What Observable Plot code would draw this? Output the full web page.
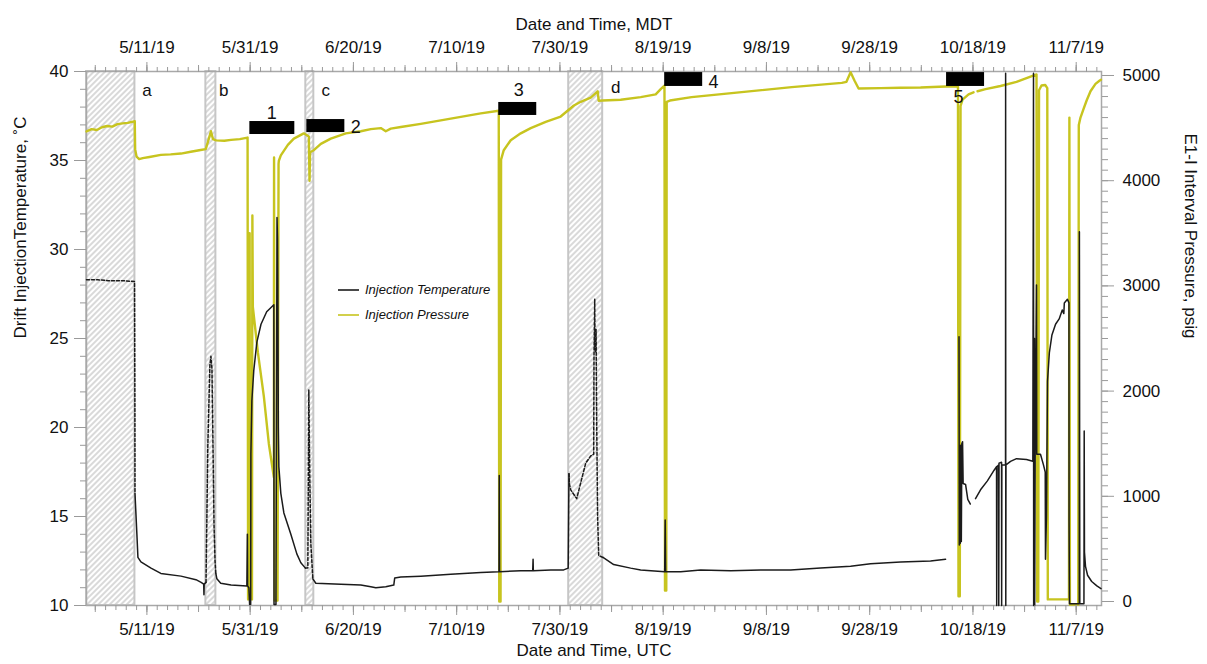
<!DOCTYPE html>
<html><head><meta charset="utf-8">
<script src="https://cdn.jsdelivr.net/npm/d3@7"></script>
<script src="https://cdn.jsdelivr.net/npm/@observablehq/plot@0.6"></script>
<style>
body{margin:0;background:#fff;font-family:"Liberation Sans",Arial,sans-serif;}
#wrap{position:relative;width:1207px;height:664px;overflow:hidden;}
#legend{position:absolute;left:338px;top:277px;font-style:italic;font-size:13px;color:#111;line-height:26px;}
#legend div{display:flex;align-items:center;height:25px;}
#legend svg{margin-right:6px;}
</style></head><body><div id="wrap"><div id="legend"></div></div>
<script>
// ---- data (time = day of year 2019, fractional) ----
const temperature = [
[119.3,28.3],[121.5,28.3],[123.5,28.25],[126,28.25],[128.6,28.2],[128.67,21.3],
[128.69,16.3],[129.06,14.0],[129.26,12.7],[129.84,12.45],[131.8,12.1],[133.7,11.8],[137.6,11.65],[140.5,11.45],[141.5,11.3],[142.0,11.2],[142.05,10.6],[142.1,11.2],
[142.45,11.3],[142.8,19.0],[143.2,23.5],[143.4,24.0],[143.6,23.3],[143.8,19.0],[144.0,14.5],[144.2,12.5],[144.35,11.8],
[144.55,11.5],[145.3,11.25],[147.3,11.15],[150.36,11.1],[150.46,14.0],[150.5,11.1],[150.75,11.0],[150.9,10.05],[151.1,10.05],
[151.14,18.5],[151.33,21.5],[151.7,23.2],[152.3,24.8],[153.1,25.8],[154.2,26.5],[155.59,26.9],[155.62,10.05],[156.0,10.05],
[156.2,31.8],[156.3,30.6],[156.36,28.0],[156.46,20.0],[156.56,17.8],[156.94,16.3],[157.53,15.2],[158.88,14.0],[160.04,12.9],[160.82,12.4],[161.7,12.1],
[162.17,12.1],[162.36,22.1],[162.56,17.0],[162.75,13.5],[163.14,11.5],[163.72,11.25],[168.56,11.2],[172.43,11.15],[174.37,11.05],[175.34,11.0],[177.27,11.05],[178.82,11.15],[179.0,11.55],[180.18,11.6],[184.05,11.65],[189.86,11.75],[195.67,11.85],[199.2,11.9],[199.25,17.3],[199.3,11.9],[203.41,11.95],[205.73,11.95],[205.8,12.6],[205.85,11.95],[209.22,12.0],[211.73,12.0],[212.6,12.1],
[212.75,17.4],[212.85,16.8],[213.09,16.5],[214.25,16.0],[215.03,16.9],[216.0,18.0],[216.96,18.4],[217.54,18.5],[217.6,24.0],[217.74,27.2],[217.8,24.5],[217.93,24.2],[218.0,25.5],[218.13,20.0],[218.3,15.0],[218.51,12.8],
[219.35,12.7],[221.41,12.3],[224.7,12.1],[226.64,12.0],[231.29,11.9],[231.39,14.8],[231.48,11.9],[234.39,11.9],[238.26,12.0],[244.07,11.95],[249.88,12.0],[255.69,12.0],[261.49,12.1],[267.3,12.2],[271.17,12.35],[276.98,12.45],[282.79,12.5],[285.7,12.6],
[286.5,null],
[288.3,25.1],[288.36,13.4],[288.45,19.0],[288.55,13.5],[288.65,19.0],[288.75,13.6],[288.85,19.1],[288.99,19.2],[289.1,16.85],[289.57,16.8],[290.0,15.96],[290.5,15.7],
[291.0,null],
[291.5,16.0],[292.47,16.5],[293.8,17.0],[295.1,17.6],[295.57,17.8],[295.6,10.0],[295.65,17.8],[295.96,17.9],[296.0,10.0],[296.05,18.0],[296.54,18.05],[296.56,10.0],[296.6,17.9],[297.31,17.9],[297.33,39.9],[297.36,10.0],[297.4,17.9],[298.28,18.1],[299.44,18.25],[301.37,18.2],[302.6,18.1],[302.73,39.9],[302.76,10.0],[302.85,18.1],[302.92,25.0],[302.96,10.0],[303.05,18.3],[303.31,28.0],[303.36,18.5],[304.08,18.5],[304.66,17.9],[305.0,17.5],[305.05,12.6],[305.24,15.0],[305.44,22.6],[305.8,24.2],[306.3,25.2],[307.0,25.8],[307.7,26.1],[308.3,26.6],[308.6,26.4],[308.7,27.0],[309.3,27.2],[309.6,27.0],[309.62,14.7],[309.7,10.1],[311.6,10.1],[311.62,31.0],[311.7,10.1],[312.5,10.1],[312.55,19.8],[312.6,13.0],[312.8,12.2],[313.2,11.7],[314.0,11.35],[315.0,11.1],[315.8,10.95]
];
const pressure = [
[119.3,4468],[120.3,4490],[121.3,4482],[122.3,4508],[123.3,4520],[124.3,4514],[125.3,4538],[126.3,4545],[127.3,4550],[128.2,4560],[128.65,4566],
[128.72,4300],[129.0,4228],[129.5,4205],[130.2,4214],[131.5,4225],[133.7,4245],[135.6,4250],[137.6,4258],[139.5,4275],[141.4,4292],[142.4,4300],
[143.0,4400],[143.4,4470],[143.8,4395],[144.4,4383],[146.0,4380],[147.3,4388],[149.0,4395],[150.5,4410],
[150.6,20],[150.85,20],[150.9,3500],[150.95,20],[151.35,20],[151.43,3670],[151.52,2800],[152.49,2370],[153.65,1950],[154.62,1500],[155.59,1180],[155.63,4220],[155.68,1180],[155.75,10],[156.3,10],[156.5,4160],
[156.56,4190],[156.94,4240],[158.3,4340],[159.46,4400],[161.39,4450],[162.36,4420],[162.5,4000],[162.6,4270],[163.33,4290],[164.69,4350],[166.62,4400],[169.53,4450],[172.43,4470],[174.37,4490],[176.3,4500],[177.27,4470],[178.24,4495],[180.18,4510],[184.05,4540],[189.86,4590],[195.67,4640],[199.15,4665],
[199.25,0],[199.5,0],[199.6,4200],[200.12,4290],[201.47,4385],[203.41,4450],[205.35,4500],[208.25,4560],[211.15,4610],[213.7,4715],[215.03,4750],[216.96,4790],[218.32,4850],[218.5,4760],[219.28,4762],[222.77,4770],[226.64,4794],[229.55,4820],[230.52,4870],[231.25,4905],
[231.35,105],[231.6,105],[231.68,4750],[232.3,4762],[236.5,4794],[246.2,4842],[255.9,4889],[265.6,4930],[266.5,4940],[267.3,5030],[268.07,4950],[268.85,4876],[273.11,4880],[276.98,4884],[280.86,4886],[285.7,4895],[288.1,4895],
[288.2,50],[288.45,50],[288.6,4710],[288.99,4770],[290.15,4820],[291.11,4840],
[291.3,null],
[291.89,4850],[293.44,4870],[296.34,4900],[299.44,4940],[302.15,4990],[303.31,5010],
[303.45,0],[303.65,0],[303.8,4860],[304.28,4905],[305.0,4910],[305.4,4880],[305.5,20],[309.6,20],[309.68,4600],[309.78,-30],[311.4,-30],[311.5,4530],[311.83,4600],[312.41,4680],[313.0,4760],[313.77,4850],[314.74,4920],[315.5,4950],[315.8,4960]
];
// hatched (excluded) periods, day of year
const hatched = [[119.3,128.68],[142.42,144.36],[161.78,163.33],[212.7,219.28]];
const hatchLetters = ["a","b","c","d"];
const letterPos = [[131.0,38.93],[145.9,38.93],[165.66,38.93],[221.8,39.1]];
// test periods (black bars): start, end, lower temp, upper temp
const bars = [[150.94,159.65,36.46,37.19],[161.98,169.34,36.57,37.30],[199.15,206.51,37.53,38.26],[231.29,238.65,39.16,39.94],[285.89,293.25,39.16,39.94]];
const barLabels = ["1","2","3","4","5"];
const barLabelPos = [[155.2,37.64],[171.47,36.85],[203.02,38.93],[240.76,39.38],[288.21,38.54]];
const tempTicks = [10,15,20,25,30,35,40];
const pressureTicks = [0,1000,2000,3000,4000,5000];
const dateTicks = [131,151,171,191,211,231,251,271,291,311];
const P_MIN = -38, P_MAX = 5038;

// ---- helpers ----
const yearStart = Date.UTC(2019,0,1);
const toDate = d => new Date(yearStart + (d - 1) * 864e5);
const toT = p => p == null ? NaN : 10 + (p - P_MIN) / (P_MAX - P_MIN) * 30;
const fromT = t => P_MIN + (t - 10) / 30 * (P_MAX - P_MIN);
const inHatch = d => hatched.some(([a,b]) => d >= a && d <= b);

function runs(series) {
  const out = []; let open = false, curDash = null, id = 0;
  for (let i = 0; i < series.length - 1; i++) {
    const [d0, v0] = series[i], [d1, v1] = series[i+1];
    if (v0 == null || v1 == null) { open = false; continue; }
    const dash = inHatch((d0 + d1) / 2);
    if (!open || dash !== curDash) { id++; curDash = dash; open = true; out.push({date: toDate(d0), v: v0, run: id, dash}); }
    out.push({date: toDate(d1), v: v1, run: id, dash});
  }
  return out;
}
const tRows = runs(temperature);
const pRows = pressure.map(([d, p]) => ({date: toDate(d), v: toT(p)}));
const hatchRows = hatched.map(([a,b]) => ({x1: toDate(a), x2: toDate(b)}));
const letterRows = hatchLetters.map((l,i) => ({label: l, date: toDate(letterPos[i][0]), v: letterPos[i][1]}));
const barRows = bars.map(([a,b,lo,hi]) => ({x1: toDate(a), x2: toDate(b), y1: lo, y2: hi}));
const barLabelRows = barLabels.map((l,i) => ({label: l, date: toDate(barLabelPos[i][0]), v: barLabelPos[i][1]}));
const majorDates = dateTicks.map(toDate);
const minorDates = d3.range(121, 316, 2).map(toDate);
const midDates = d3.range(121, 316, 10).map(toDate);
const fmt = d3.utcFormat("%-m/%-d/%y");
const tickGray = "#9a9a9a";

const defs = () => {
  const g = d3.create("svg:g");
  const p = g.append("defs").append("pattern").attr("id","hatch").attr("patternUnits","userSpaceOnUse")
    .attr("width",4).attr("height",4).attr("patternTransform","rotate(45)");
  p.append("rect").attr("width",4).attr("height",4).attr("fill","white");
  p.append("line").attr("x1",1).attr("y1",0).attr("x2",1).attr("y2",4).attr("stroke","#b3b3b3").attr("stroke-width",1);
  return g.node();
};

const chart = Plot.plot({
  width: 1207, height: 664,
  marginLeft: 86, marginRight: 106, marginTop: 71, marginBottom: 59,
  x: {type: "utc", domain: [toDate(119.3), toDate(315.9)], label: null},
  y: {domain: [10, 40], label: null},
  style: {fontFamily: "'Liberation Sans', Arial, sans-serif", fontSize: "17px", background: "white", color: "#111"},
  marks: [
    defs,
    Plot.rect(hatchRows, {x1: "x1", x2: "x2", y1: 10, y2: 40, fill: "url(#hatch)", stroke: "#c6c6c6", strokeWidth: 2}),
    Plot.frame({stroke: "#a8a8a8", strokeWidth: 1.5}),
    Plot.line(pRows, {x: "date", y: "v", stroke: "#c7c41f", strokeWidth: 2.4, curve: "linear"}),
    Plot.line(tRows.filter(d => !d.dash), {x: "date", y: "v", z: "run", stroke: "#1b1b1b", strokeWidth: 1.5}),
    Plot.line(tRows.filter(d => d.dash), {x: "date", y: "v", z: "run", stroke: "#1b1b1b", strokeWidth: 1.5, strokeDasharray: "3,2"}),
    Plot.rect(barRows, {x1: "x1", x2: "x2", y1: "y1", y2: "y2", fill: "black"}),
    Plot.text(letterRows, {x: "date", y: "v", text: "label", fontSize: 17}),
    Plot.text(barLabelRows, {x: "date", y: "v", text: "label", fontSize: 18}),
    // left axis
    Plot.axisY({anchor: "left", ticks: tempTicks, tickSize: 12, tickPadding: 6, stroke: tickGray, fill: "#111", fontSize: 17}),
    Plot.axisY({anchor: "left", ticks: d3.range(10, 41, 1), tickSize: 6, tickFormat: () => "", stroke: tickGray}),
    // right axis (pressure)
    Plot.axisY({anchor: "right", ticks: pressureTicks.map(toT), tickFormat: t => String(Math.round(fromT(t) / 100) * 100), tickSize: 12, tickPadding: 9, stroke: tickGray, fill: "#111", fontSize: 17}),
    Plot.axisY({anchor: "right", ticks: d3.range(0, 5001, 100).map(toT), tickSize: 6, tickFormat: () => "", stroke: tickGray}),
    // bottom axis
    Plot.axisX({anchor: "bottom", ticks: majorDates, tickFormat: fmt, tickSize: 10, tickPadding: 7, stroke: tickGray, fill: "#111", fontSize: 17}),
    Plot.axisX({anchor: "bottom", ticks: midDates, tickSize: 7, tickFormat: () => "", stroke: tickGray}),
    Plot.axisX({anchor: "bottom", ticks: minorDates, tickSize: 5, tickFormat: () => "", stroke: tickGray}),
    // top axis
    Plot.axisX({anchor: "top", ticks: majorDates, tickFormat: fmt, tickSize: 10, tickPadding: 9, stroke: tickGray, fill: "#111", fontSize: 17}),
    Plot.axisX({anchor: "top", ticks: midDates, tickSize: 7, tickFormat: () => "", stroke: tickGray}),
    Plot.axisX({anchor: "top", ticks: minorDates, tickSize: 5, tickFormat: () => "", stroke: tickGray}),
    // axis titles
    Plot.text(["Date and Time, MDT"], {text: d => d, frameAnchor: "top", dy: -54, fontSize: 17}),
    Plot.text(["Date and Time, UTC"], {text: d => d, frameAnchor: "bottom", dy: 50, fontSize: 17}),
    Plot.text(["Drift InjectionTemperature, ˚C"], {text: d => d, frameAnchor: "left", dx: -66, rotate: -90, fontSize: 17}),
    Plot.text(["E1-I Interval Pressure, psig"], {text: d => d, frameAnchor: "right", dx: 89, rotate: 90, fontSize: 17})
  ]
});
const wrap = document.getElementById("wrap");
wrap.insertBefore(chart, wrap.firstChild);

const legendItems = [["Injection Temperature", "#1b1b1b"], ["Injection Pressure", "#c7c41f"]];
const legend = d3.select("#legend");
legendItems.forEach(([name, color]) => {
  const row = legend.append("div");
  row.append("svg").attr("width", 21).attr("height", 4).append("line")
    .attr("x1", 0).attr("x2", 21).attr("y1", 2).attr("y2", 2).attr("stroke", color).attr("stroke-width", 1.6);
  row.append("span").text(name);
});
</script>
</body></html>
